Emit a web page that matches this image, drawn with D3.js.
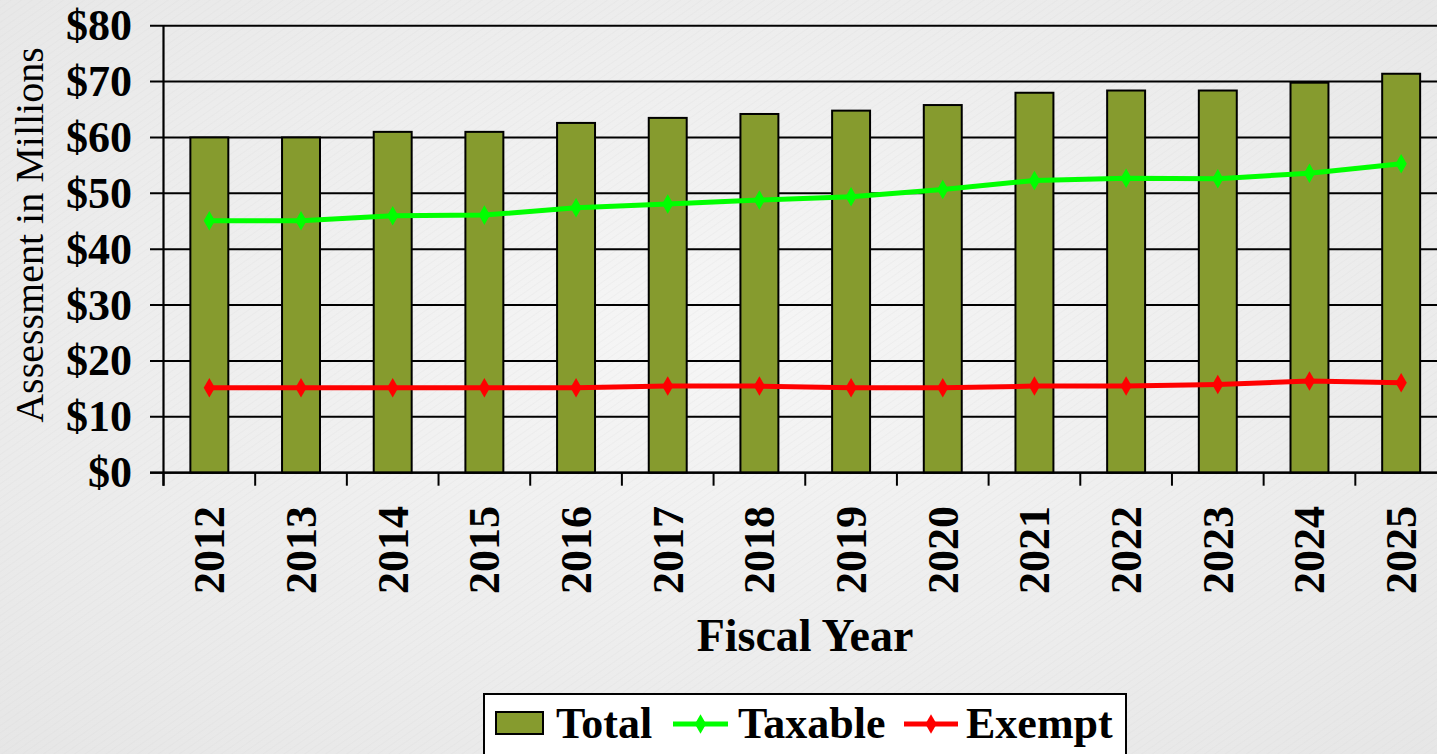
<!DOCTYPE html>
<html lang="en">
<head>
<meta charset="utf-8">
<title>Assessment by Fiscal Year</title>
<script src="https://d3js.org/d3.v7.min.js"></script>
<style>
  body { margin: 0; overflow: hidden; }
  svg { display: block; }
  .tick-label { font-family: "Liberation Serif", "Times New Roman", serif; font-weight: bold; font-size: 44px; }
  .axis-title { font-family: "Liberation Serif", "Times New Roman", serif; font-size: 40px; }
  .x-title { font-family: "Liberation Serif", "Times New Roman", serif; font-weight: bold; font-size: 46px; }
  .legend-text { font-family: "Liberation Serif", "Times New Roman", serif; font-weight: bold; font-size: 44px; }
</style>
</head>
<body>
<div id="vis"></div>
<script>
const years = ["2012","2013","2014","2015","2016","2017","2018","2019","2020","2021","2022","2023","2024","2025"];
const total = [60.0, 60.0, 61.0, 61.0, 62.6, 63.5, 64.2, 64.8, 65.8, 68.0, 68.4, 68.4, 69.8, 71.4];
const taxable = [45.1, 45.1, 46.0, 46.1, 47.4, 48.1, 48.8, 49.4, 50.7, 52.3, 52.7, 52.6, 53.6, 55.3];
const exempt = [15.2, 15.2, 15.2, 15.2, 15.2, 15.5, 15.5, 15.2, 15.2, 15.5, 15.5, 15.8, 16.4, 16.1];
const yTicks = [0, 10, 20, 30, 40, 50, 60, 70, 80];

const width = 1437, height = 754;
const plotLeft = 163.5, plotRight = 1447, plotTop = 25.7, plotBottom = 472.7;

const svg = d3.select("#vis").append("svg")
  .attr("width", width).attr("height", height);

const defs = svg.append("defs");
const grad = defs.append("radialGradient").attr("id", "bg")
  .attr("cx", "50%").attr("cy", "45%").attr("r", "75%");
grad.append("stop").attr("offset", "0%").attr("stop-color", "#f6f6f6");
grad.append("stop").attr("offset", "100%").attr("stop-color", "#e6e6e6");
const pat = defs.append("pattern").attr("id", "tex")
  .attr("width", 6).attr("height", 6).attr("patternUnits", "userSpaceOnUse")
  .attr("patternTransform", "rotate(-35)");
pat.append("line").attr("x1", 0).attr("y1", 0).attr("x2", 6).attr("y2", 0)
  .attr("stroke", "#d2d2d2").attr("stroke-width", 1).attr("opacity", 0.35);

svg.append("rect").attr("width", width).attr("height", height).attr("fill", "url(#bg)");
svg.append("rect").attr("width", width).attr("height", height).attr("fill", "url(#tex)");

const x = d3.scaleBand().domain(years).range([plotLeft, plotRight])
  .paddingInner(0.586).paddingOuter(0.293);
const step = x.step();
const y = d3.scaleLinear().domain([0, 80]).range([plotBottom, plotTop]);

// gridlines + y ticks
svg.append("g").selectAll("line").data(yTicks).join("line")
  .attr("x1", 150).attr("x2", plotRight)
  .attr("y1", d => y(d)).attr("y2", d => y(d))
  .attr("stroke", "#000").attr("stroke-width", 2);

svg.append("g").selectAll("text").data(yTicks).join("text")
  .attr("class", "tick-label")
  .attr("x", 132).attr("y", d => y(d) + 14.5)
  .attr("text-anchor", "end")
  .text(d => "$" + d);

// bars
svg.append("g").selectAll("rect").data(years).join("rect")
  .attr("x", d => x(d))
  .attr("y", (d, i) => y(total[i]))
  .attr("width", x.bandwidth())
  .attr("height", (d, i) => plotBottom - y(total[i]))
  .attr("fill", "#869b2e")
  .attr("stroke", "#000").attr("stroke-width", 2);

// axes
svg.append("line").attr("x1", plotLeft).attr("x2", plotLeft).attr("y1", plotTop).attr("y2", plotBottom + 13)
  .attr("stroke", "#000").attr("stroke-width", 2.2);
svg.append("line").attr("x1", 150).attr("x2", plotRight).attr("y1", plotBottom).attr("y2", plotBottom)
  .attr("stroke", "#000").attr("stroke-width", 2.2);
svg.append("g").selectAll("line").data(d3.range(years.length + 1)).join("line")
  .attr("x1", i => plotLeft + i * step).attr("x2", i => plotLeft + i * step)
  .attr("y1", plotBottom).attr("y2", plotBottom + 13)
  .attr("stroke", "#000").attr("stroke-width", 2);

// year labels
svg.append("g").selectAll("text").data(years).join("text")
  .attr("class", "tick-label")
  .attr("transform", d => `translate(${x(d) + x.bandwidth() / 2 + 15},506) rotate(-90)`)
  .attr("text-anchor", "end")
  .text(d => d);

// lines
const cx = d => x(d) + x.bandwidth() / 2;
const diamond = d3.symbol().type(d3.symbolDiamond).size(110);
function drawSeries(vals, color) {
  const line = d3.line().x((d, i) => cx(years[i])).y(d => y(d));
  svg.append("path").datum(vals).attr("d", line)
    .attr("fill", "none").attr("stroke", color).attr("stroke-width", 5);
  svg.append("g").selectAll("path").data(vals).join("path")
    .attr("d", diamond)
    .attr("transform", (d, i) => `translate(${cx(years[i])},${y(d)})`)
    .attr("fill", color);
}
drawSeries(taxable, "#00ff00");
drawSeries(exempt, "#ff0000");

// axis titles
svg.append("text").attr("class", "axis-title")
  .attr("transform", `translate(43,235) rotate(-90)`)
  .attr("text-anchor", "middle")
  .text("Assessment in Millions");
svg.append("text").attr("class", "x-title")
  .attr("x", 805).attr("y", 651).attr("text-anchor", "middle")
  .text("Fiscal Year");

// legend
const lg = svg.append("g");
lg.append("rect").attr("x", 484).attr("y", 694).attr("width", 642).attr("height", 80)
  .attr("fill", "#fff").attr("stroke", "#000").attr("stroke-width", 2);
lg.append("rect").attr("x", 496).attr("y", 712).attr("width", 47).attr("height", 22)
  .attr("fill", "#869b2e").attr("stroke", "#000").attr("stroke-width", 2);
lg.append("text").attr("class", "legend-text").attr("x", 556).attr("y", 738).text("Total");
const legendLines = [[673, 728, "#00ff00", 738, "Taxable"], [904, 958, "#ff0000", 966, "Exempt"]];
legendLines.forEach(([x1, x2, c, tx, label]) => {
  lg.append("line").attr("x1", x1).attr("x2", x2).attr("y1", 724).attr("y2", 724)
    .attr("stroke", c).attr("stroke-width", 5);
  lg.append("path").attr("d", diamond).attr("transform", `translate(${(x1 + x2) / 2},724)`).attr("fill", c);
  lg.append("text").attr("class", "legend-text").attr("x", tx).attr("y", 738).text(label);
});
</script>
</body>
</html>
